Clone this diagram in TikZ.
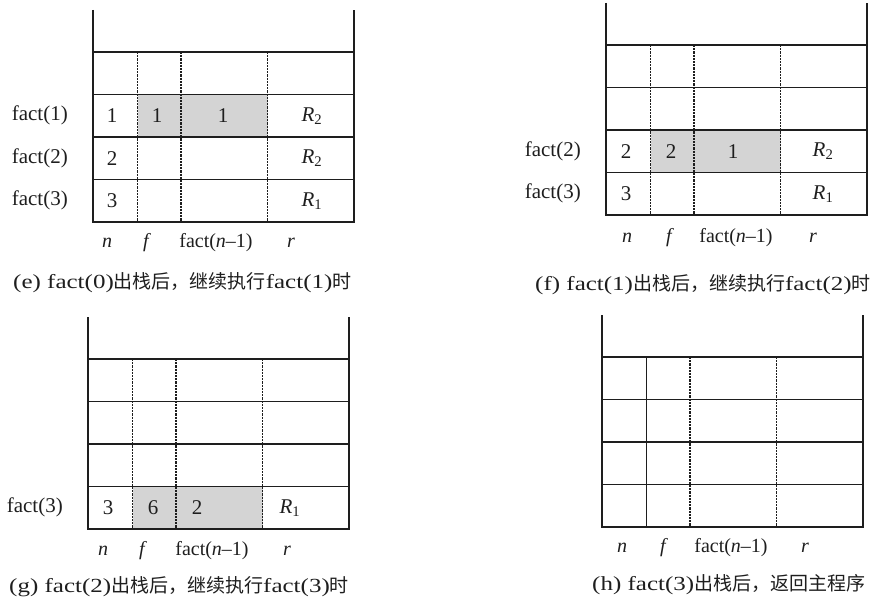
\documentclass[tikz,border=0pt]{standalone}
\usepackage{fontspec}
\setmainfont{Liberation Serif}
\newfontfamily\cjk{Noto Sans CJK SC}
\newfontfamily\capfont{Liberation Serif}[FakeStretch=1.25]
\newcommand\capL[1]{{\capfont\fontsize{20}{24}\selectfont #1}}
\newcommand\capZ[1]{{\cjk\fontsize{19}{23}\selectfont #1}}
\definecolor{shadegray}{RGB}{212,212,212}
\definecolor{inkgray}{RGB}{30,30,30}
\tikzset{
  wall/.style={line width=1.4pt, draw=inkgray},
  dashline/.style={line width=1.2pt, draw=inkgray, dash pattern=on 2.2pt off 1pt},
  shadecell/.style={fill=shadegray, draw=none},
  lbl/.style={font=\fontsize{21}{24}\selectfont, inner sep=0pt, text=inkgray},
  rowlbl/.style={lbl, anchor=east},
  collbl/.style={font=\fontsize{20}{24}\selectfont, inner sep=0pt, text=inkgray},
  captext/.style={anchor=west, inner sep=0pt, text=inkgray}
}
\newcommand\stackframe[3]{%
  \draw[wall] (#1,#2) -- (#1,#2+212) -- (#1+261,#2+212) -- (#1+261,#2);
  \foreach \k in {0,...,3} \draw[wall] (#1,#2+42+42.5*\k) -- (#1+261,#2+42+42.5*\k);
  \draw[#3] (#1+44.5,#2+42) -- (#1+44.5,#2+212);
  \draw[dashline] (#1+88,#2+42) -- (#1+88,#2+212);
  \draw[dashline] (#1+174.5,#2+42) -- (#1+174.5,#2+212);
}
\begin{document}
\begin{tikzpicture}[x=1pt, y=-1pt]
\useasboundingbox (0,0) rectangle (874,602);
% ---------- shaded cells ----------
\fill[shadecell] (137.5,94.5) rectangle (267.5,137);
\fill[shadecell] (650.5,130) rectangle (780.5,172.5);
\fill[shadecell] (132.5,486.5) rectangle (262.5,529);
% ---------- frames ----------
\stackframe{93}{10}{dashline}
\stackframe{606}{3}{dashline}
\stackframe{88}{317}{dashline}
\stackframe{602}{315}{wall}
% ---------- panel (e) ----------
\node[rowlbl] (e1) at (68,115.75) {fact(1)};
\node[rowlbl] (e2) at (68,158.25) {fact(2)};
\node[rowlbl] (e3) at (68,200.75) {fact(3)};
\node[lbl] (e1n) at (112,115.75) {1};
\node[lbl] (e1f) at (157,115.75) {1};
\node[lbl] (e1p) at (223,115.75) {1};
\node[lbl] (e1r) at (312,115.75) {\textit{R}\textsubscript{2}};
\node[lbl] (e2n) at (112,158.25) {2};
\node[lbl] (e2r) at (312,158.25) {\textit{R}\textsubscript{2}};
\node[lbl] (e3n) at (112,200.75) {3};
\node[lbl] (e3r) at (312,200.75) {\textit{R}\textsubscript{1}};
\node[collbl] (ecn) at (107,243) {\textit{n}};
\node[collbl] (ecf) at (147,243) {\textit{f}};
\node[collbl] (ecp) at (216,243) {fact(\textit{n}–1)};
\node[collbl] (ecr) at (291,243) {\textit{r}};
\node[captext] (ecap) at (13,283) {\capL{(e) fact(0)}\capZ{出栈后，继续执行}\capL{fact(1)}\capZ{时}};
% ---------- panel (f) ----------
\node[rowlbl] (f2) at (581,151.25) {fact(2)};
\node[rowlbl] (f3) at (581,193.75) {fact(3)};
\node[lbl] (f2n) at (626,151.25) {2};
\node[lbl] (f2f) at (671,151.25) {2};
\node[lbl] (f2p) at (733,151.25) {1};
\node[lbl] (f2r) at (823,151.25) {\textit{R}\textsubscript{2}};
\node[lbl] (f3n) at (626,193.75) {3};
\node[lbl] (f3r) at (823,193.75) {\textit{R}\textsubscript{1}};
\node[collbl] (fcn) at (627,238) {\textit{n}};
\node[collbl] (fcf) at (670,238) {\textit{f}};
\node[collbl] (fcp) at (736,238) {fact(\textit{n}–1)};
\node[collbl] (fcr) at (813,238) {\textit{r}};
\node[captext] (fcap) at (535,285) {\capL{(f) fact(1)}\capZ{出栈后，继续执行}\capL{fact(2)}\capZ{时}};
% ---------- panel (g) ----------
\node[rowlbl] (g3) at (63,507.75) {fact(3)};
\node[lbl] (g3n) at (108,507.75) {3};
\node[lbl] (g3f) at (153,507.75) {6};
\node[lbl] (g3p) at (197,507.75) {2};
\node[lbl] (g3r) at (290,507.75) {\textit{R}\textsubscript{1}};
\node[collbl] (gcn) at (103,551) {\textit{n}};
\node[collbl] (gcf) at (143,551) {\textit{f}};
\node[collbl] (gcp) at (212,551) {fact(\textit{n}–1)};
\node[collbl] (gcr) at (287,551) {\textit{r}};
\node[captext] (gcap) at (9,587) {\capL{(g) fact(2)}\capZ{出栈后，继续执行}\capL{fact(3)}\capZ{时}};
% ---------- panel (h) ----------
\node[collbl] (hcn) at (622,548) {\textit{n}};
\node[collbl] (hcf) at (664,548) {\textit{f}};
\node[collbl] (hcp) at (731,548) {fact(\textit{n}–1)};
\node[collbl] (hcr) at (805,548) {\textit{r}};
\node[captext] (hcap) at (592,585) {\capL{(h) fact(3)}\capZ{出栈后，返回主程序}};
\end{tikzpicture}
\end{document}
